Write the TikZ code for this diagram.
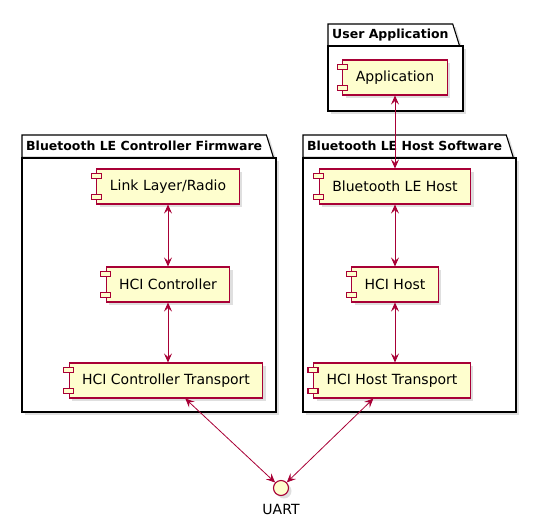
\documentclass[tikz,border=0pt]{standalone}
\usepackage{fontspec}
\setmainfont{DejaVu Sans}
\usepackage{xcolor}
\usetikzlibrary{arrows.meta,positioning,shadows,backgrounds}

\definecolor{umlred}{HTML}{A80036}
\definecolor{umlfill}{HTML}{FEFECE}

\begin{document}
\begin{tikzpicture}[
    x=1pt, y=-1pt,
    shade/.style={drop shadow={shadow xshift=3pt, shadow yshift=-3pt, opacity=0.25}},
    comp/.style={rectangle, draw=umlred, fill=umlfill, line width=1.1pt, minimum height=35pt, inner xsep=13pt, font=\fontsize{14}{16}\selectfont, shade},
    port/.style={draw=umlred, fill=umlfill, line width=1.1pt},
    iface/.style={circle, draw=umlred, fill=umlfill, line width=1.1pt, minimum size=15pt, inner sep=0pt, shade},
    pkg/.style={draw=black, line width=1.1pt, fill=white, shade},
    pkgtitle/.style={anchor=north west, inner xsep=4pt, inner ysep=0pt, minimum height=22pt, font=\bfseries\fontsize{12.5}{15}\selectfont},
    arrow/.style={{Stealth[length=9pt, width=8pt, inset=3.5pt]}-{Stealth[length=9pt, width=8pt, inset=3.5pt]}, draw=umlred, line width=0.8pt},
  ]
  \useasboundingbox (0,0) rectangle (538,530);

  % Package titles
  \node[pkgtitle] (apptitle) at (328,24) {User Application};
  \node[pkgtitle] (fwtitle) at (22,135) {Bluetooth LE Controller Firmware};
  \node[pkgtitle] (hosttitle) at (303,135) {Bluetooth LE Host Software};

  % Package frames
  \begin{scope}[on background layer]
    \draw[pkg] (apptitle.south west) -- (apptitle.north west) -- (apptitle.north east) -- ([xshift=7pt]apptitle.south east) -- cycle;
    \draw[pkg] (328,46) rectangle (463,111);
    \draw[pkg] (fwtitle.south west) -- (fwtitle.north west) -- (fwtitle.north east) -- ([xshift=7pt]fwtitle.south east) -- cycle;
    \draw[pkg] (22,158) rectangle (276,412);
    \draw[pkg] (hosttitle.south west) -- (hosttitle.north west) -- (hosttitle.north east) -- ([xshift=7pt]hosttitle.south east) -- cycle;
    \draw[pkg] (303,158) rectangle (516,412);
  \end{scope}

  % Components
  \node[comp] (app) at (395,77.5) {Application};
  \node[comp] (link) at (168,186.5) {Link Layer/Radio};
  \node[comp] (hcictrl) at (168,284.5) {HCI Controller};
  \node[comp] (ctrltrans) at (166,380.5) {HCI Controller Transport};
  \node[comp] (blehost) at (395,186.5) {Bluetooth LE Host};
  \node[comp] (hcihost) at (395,284.5) {HCI Host};
  \node[comp] (hosttrans) at (392,380.5) {HCI Host Transport};

  % Component ports
  \foreach \n in {app, link, hcictrl, ctrltrans, blehost, hcihost, hosttrans} {
    \draw[port] ([xshift=-5pt, yshift=-5pt]\n.north west) rectangle ++(10pt,-5pt);
    \draw[port] ([xshift=-5pt, yshift=5pt]\n.south west) rectangle ++(10pt,5pt);
  }

  % Interface
  \node[iface] (uart) at (281,488) {};
  \node[below=5pt of uart, font=\fontsize{14}{16}\selectfont] (uartlabel) {UART};

  % Connectors
  \draw[arrow] (app) -- (blehost);
  \draw[arrow] (link) -- (hcictrl);
  \draw[arrow] (hcictrl.south) -- (hcictrl.south |- ctrltrans.north);
  \draw[arrow] (blehost) -- (hcihost);
  \draw[arrow] (hcihost.south) -- (hcihost.south |- hosttrans.north);
  \draw[arrow] (ctrltrans) -- (uart);
  \draw[arrow] (hosttrans) -- (uart);
\end{tikzpicture}
\end{document}
